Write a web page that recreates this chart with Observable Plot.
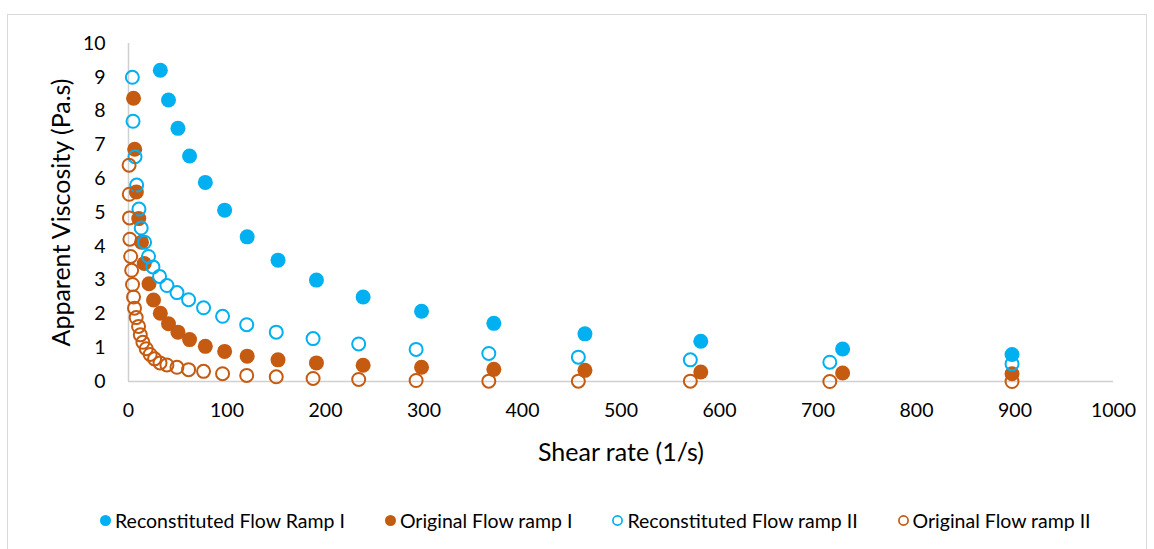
<!DOCTYPE html>
<html>
<head>
<meta charset="utf-8">
<script src="https://cdn.jsdelivr.net/npm/d3@7"></script>
<script src="https://cdn.jsdelivr.net/npm/@observablehq/plot@0.6"></script>
<style>
  body { margin: 0; background: #fff; font-family: Lato, "Open Sans", sans-serif; }
  #wrap { position: relative; width: 1154px; height: 549px; overflow: hidden; background: #fff; }
  #frame { position: absolute; left: 7px; top: 14px; width: 1140px; height: 545px; border: 1px solid #d9d9d9; box-sizing: border-box; }
  #chart { position: absolute; left: 0; top: 0; }
  #legend { position: absolute; top: 507px; left: 99px; height: 26px; display: flex; align-items: center; font-size: 19.5px; color: #000; white-space: nowrap; }
  .item { display: flex; align-items: center; margin-right: 39px; }
  .item svg { margin-right: 3px; }
</style>
</head>
<body>
<div id="wrap">
  <div id="frame"></div>
  <div id="chart"></div>
  <div id="legend"></div>
</div>
<script>
// Series names
const seriesNames = ["Reconstituted Flow Ramp I", "Original Flow ramp I", "Reconstituted Flow ramp II", "Original Flow ramp II"];
const seriesColors = ["#00B0F0", "#C55A11", "#00B0F0", "#C55A11"];
const seriesFilled = [true, true, false, false];

// Reconstituted Flow Ramp I
const reconIShear = [32.3, 40.6, 50.2, 62, 78, 97.6, 120.5, 151.8, 190.8, 238.2, 297.5, 370.9, 463.4, 581, 725, 897];
const reconIVisc  = [9.21, 8.33, 7.49, 6.67, 5.89, 5.07, 4.28, 3.59, 3.00, 2.50, 2.08, 1.72, 1.41, 1.19, 0.96, 0.80];

// Original Flow ramp I
const origIShear = [5.1, 6.3, 8.0, 10.4, 13.2, 16.0, 20.8, 25.4, 32.3, 40.6, 50.2, 62, 78, 97.6, 120.5, 151.8, 190.8, 238.2, 297.5, 370.9, 463.4, 581, 725, 897];
const origIVisc  = [8.38, 6.87, 5.61, 4.82, 4.12, 3.49, 2.89, 2.41, 2.02, 1.71, 1.46, 1.24, 1.04, 0.89, 0.75, 0.64, 0.55, 0.48, 0.42, 0.36, 0.33, 0.28, 0.25, 0.23];

// Reconstituted Flow ramp II
const reconIIShear = [3.9, 4.6, 6.6, 8.3, 10.6, 12.9, 16.3, 20.3, 24.8, 31.5, 39, 49.2, 61, 76.2, 95.5, 120, 150, 187.4, 233.7, 292, 365.8, 456.7, 570.4, 712, 897];
const reconIIVisc  = [9.00, 7.70, 6.65, 5.81, 5.10, 4.54, 4.12, 3.70, 3.39, 3.11, 2.84, 2.63, 2.42, 2.18, 1.93, 1.68, 1.46, 1.27, 1.11, 0.95, 0.83, 0.72, 0.64, 0.57, 0.52];

// Original Flow ramp II
const origIIShear = [0.6, 0.8, 1.0, 1.4, 2.2, 3.2, 4.1, 5.1, 6.1, 7.8, 10.2, 12, 14.6, 18, 22, 26.5, 32, 39, 49.2, 61, 76.2, 95.5, 120, 150, 187.4, 233.7, 292, 365.8, 456.7, 570.4, 712, 897];
const origIIVisc  = [6.40, 5.54, 4.84, 4.21, 3.70, 3.29, 2.87, 2.50, 2.17, 1.89, 1.63, 1.38, 1.16, 0.97, 0.80, 0.67, 0.55, 0.49, 0.42, 0.35, 0.30, 0.23, 0.18, 0.14, 0.09, 0.06, 0.03, 0.01, 0.01, 0.01, 0.00, 0.00];

// Axis ticks and titles
const xTicks = [0, 100, 200, 300, 400, 500, 600, 700, 800, 900, 1000];
const yTicks = [0, 1, 2, 3, 4, 5, 6, 7, 8, 9, 10];
const xTitle = "Shear rate (1/s)";
const yTitle = "Apparent Viscosity (Pa.s)";

const toRows = (xs, ys) => xs.map((x, i) => ({x, y: ys[i]}));
const rI = toRows(reconIShear, reconIVisc);
const oI = toRows(origIShear, origIVisc);
const rII = toRows(reconIIShear, reconIIVisc);
const oII = toRows(origIIShear, origIIVisc);

const chart = Plot.plot({
  width: 1154,
  height: 480,
  marginLeft: 128,
  marginRight: 41,
  marginTop: 43,
  marginBottom: 99,
  style: { fontFamily: "Lato, 'Open Sans', sans-serif", fontSize: "19.5px", color: "#000", background: "transparent", overflow: "visible" },
  x: { domain: [0, 1000] },
  y: { domain: [0, 10] },
  marks: [
    Plot.ruleY([0], { stroke: "#d0d0d0", strokeWidth: 1.5 }),
    Plot.ruleX([0], { y1: 0, y2: 10, stroke: "#d0d0d0", strokeWidth: 1.5 }),
    Plot.axisX({ ticks: xTicks, tickSize: 0, tickPadding: 22, tickFormat: d => String(d), label: null }),
    Plot.axisY({ ticks: yTicks, tickSize: 0, tickPadding: 23, tickFormat: d => String(d), label: null }),
    Plot.text([xTitle], { text: d => d, frameAnchor: "bottom", dy: 71, lineAnchor: "middle", textAnchor: "middle", fontSize: 25 }),
    Plot.text([yTitle], { text: d => d, frameAnchor: "left", dx: -67, rotate: -90, lineAnchor: "middle", textAnchor: "middle", fontSize: 25 }),
    Plot.dot(rI, { x: "x", y: "y", r: 7.5, fill: seriesColors[0], stroke: "none" }),
    Plot.dot(oI, { x: "x", y: "y", r: 7.5, fill: seriesColors[1], stroke: "none" }),
    Plot.dot(rII, { x: "x", y: "y", r: 6.5, fill: "none", stroke: seriesColors[2], strokeWidth: 2 }),
    Plot.dot(oII, { x: "x", y: "y", r: 6.5, fill: "none", stroke: seriesColors[3], strokeWidth: 2 })
  ]
});
document.getElementById("chart").appendChild(chart);

// Legend
const legend = document.getElementById("legend");
seriesNames.forEach((name, i) => {
  const item = document.createElement("div");
  item.className = "item";
  const filled = seriesFilled[i];
  item.innerHTML = `<svg width="13" height="13"><circle cx="6.5" cy="6.5" r="${filled ? 5.5 : 4.6}" fill="${filled ? seriesColors[i] : "none"}" stroke="${filled ? "none" : seriesColors[i]}" stroke-width="1.7"/></svg><span>${name}</span>`;
  legend.appendChild(item);
});
</script>
</body>
</html>
